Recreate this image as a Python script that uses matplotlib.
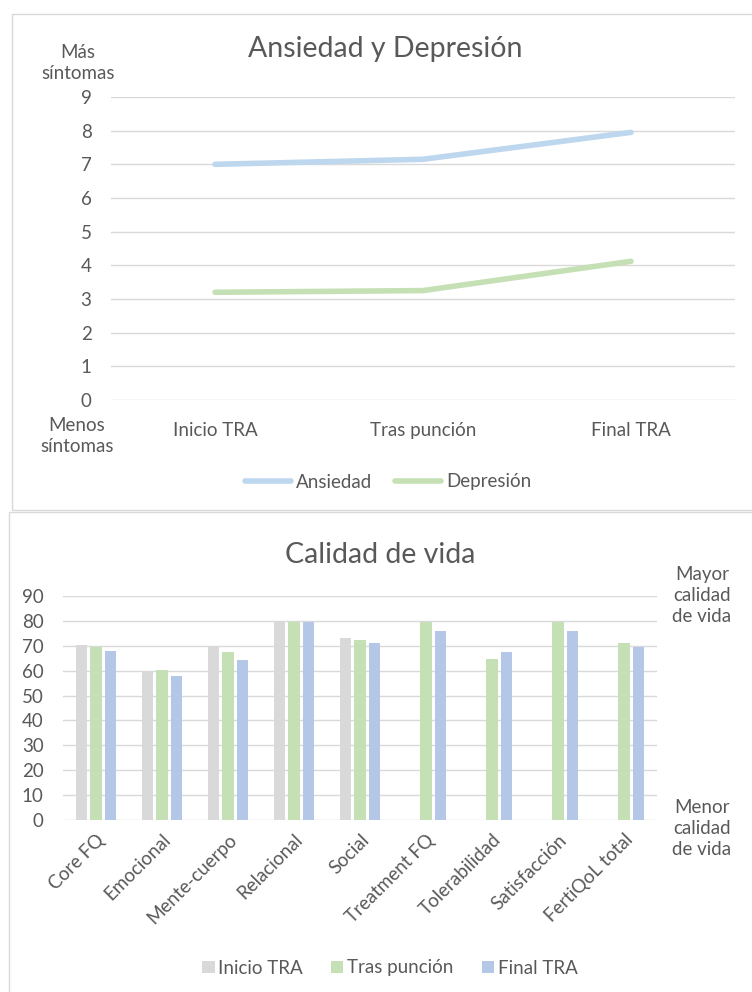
import matplotlib
matplotlib.use('Agg')
import matplotlib.pyplot as plt
from matplotlib.patches import Rectangle
import numpy as np

plt.rcParams['font.family'] = ['Lato', 'DejaVu Sans']

# Tamaño del lienzo en píxeles (dpi = 100)
W, H = 752, 992
GRIS_TEXTO = '#595959'
GRIS_REJILLA = '#D9D9D9'
FS = 13.5

# Datos del gráfico de líneas
momentos = ['Inicio TRA', 'Tras punción', 'Final TRA']
ansiedad = [7.0, 7.15, 7.95]
depresion = [3.2, 3.25, 4.12]

# Datos del gráfico de barras (FertiQoL)
dimensiones = ['Core FQ', 'Emocional', 'Mente-cuerpo', 'Relacional', 'Social',
               'Treatment FQ', 'Tolerabilidad', 'Satisfacción', 'FertiQoL total']
inicio_tra = [70.3, 59.6, 70.0, 79.6, 73.2, np.nan, np.nan, np.nan, np.nan]
tras_puncion = [69.6, 60.3, 67.6, 79.6, 72.3, 79.4, 64.8, 79.4, 71.2]
final_tra = [67.9, 57.8, 64.1, 79.6, 71.3, 75.8, 67.6, 75.8, 69.6]


def caja(x0, y0, x1, y1):
    # Convierte un rectángulo en píxeles (origen arriba a la izquierda) a fracción de figura
    return [x0 / W, 1 - y1 / H, (x1 - x0) / W, (y1 - y0) / H]


def px(x, y):
    return x / W, 1 - y / H


fig = plt.figure(figsize=(W / 100, H / 100), dpi=100)

# Marcos de los dos paneles
for (x0, y0, x1, y1) in [(12, 14, 770, 510), (9, 512, 770, 1010)]:
    fig.patches.append(Rectangle(px(x0, y1), (x1 - x0) / W, (y1 - y0) / H,
                                 transform=fig.transFigure, facecolor='none',
                                 edgecolor=GRIS_REJILLA, lw=1))

# --- Ansiedad y Depresión ---
ax1 = fig.add_axes(caja(111, 97, 735, 400))
ax1.patch.set_alpha(0)
x = np.arange(len(momentos))
ax1.plot(x, ansiedad, color='#BDD7EE', lw=4, solid_capstyle='round', label='Ansiedad')
ax1.plot(x, depresion, color='#C5E0B4', lw=4, solid_capstyle='round', label='Depresión')
ax1.set_xlim(-0.5, len(momentos) - 0.5)
ax1.set_ylim(0, 9)
ax1.set_yticks(range(0, 10))
ax1.set_xticks(x)
ax1.set_xticklabels(momentos)
ax1.grid(axis='y', color=GRIS_REJILLA, lw=1)
ax1.set_axisbelow(True)
for s in ax1.spines.values():
    s.set_visible(False)
ax1.tick_params(axis='y', length=0, pad=14, labelsize=FS, labelcolor=GRIS_TEXTO)
ax1.tick_params(axis='x', length=0, pad=16, labelsize=FS, labelcolor=GRIS_TEXTO)

fig.text(*px(385, 57), 'Ansiedad y Depresión', ha='center', va='baseline',
         fontsize=20.5, color=GRIS_TEXTO)
fig.text(*px(78, 79), 'Más\nsíntomas', ha='center', va='baseline',
         fontsize=FS, color=GRIS_TEXTO, linespacing=1.3, multialignment='center')
fig.text(*px(77, 452), 'Menos\nsíntomas', ha='center', va='baseline',
         fontsize=FS, color=GRIS_TEXTO, linespacing=1.3, multialignment='center')

leg1 = ax1.legend(loc='center', bbox_to_anchor=px(388, 482), bbox_transform=fig.transFigure,
                  ncol=2, frameon=False, fontsize=FS, handlelength=2.45,
                  handletextpad=0.25, columnspacing=1.25)
for t in leg1.get_texts():
    t.set_color(GRIS_TEXTO)

# --- Calidad de vida ---
ax2 = fig.add_axes(caja(63, 596, 657, 820))
ax2.patch.set_alpha(0)
xc = np.arange(len(dimensiones))
ancho = 0.17
paso = 0.22
ax2.bar(xc - paso, inicio_tra, ancho, color='#D9D9D9', label='Inicio TRA')
ax2.bar(xc, tras_puncion, ancho, color='#C5E0B4', label='Tras punción')
ax2.bar(xc + paso, final_tra, ancho, color='#B4C7E7', label='Final TRA')
ax2.set_xlim(-0.5, len(dimensiones) - 0.5)
ax2.set_ylim(0, 90)
ax2.set_yticks(range(0, 91, 10))
ax2.set_xticks(xc)
ax2.set_xticklabels(dimensiones, rotation=45, ha='right', rotation_mode='anchor')
ax2.grid(axis='y', color=GRIS_REJILLA, lw=1)
ax2.set_axisbelow(True)
for s in ax2.spines.values():
    s.set_visible(False)
ax2.tick_params(axis='y', length=0, pad=14, labelsize=FS, labelcolor=GRIS_TEXTO)
ax2.tick_params(axis='x', length=0, pad=8, labelsize=FS, labelcolor=GRIS_TEXTO)

fig.text(*px(380, 563), 'Calidad de vida', ha='center', va='baseline',
         fontsize=20.5, color=GRIS_TEXTO)
fig.text(*px(702, 622), 'Mayor\ncalidad\nde vida', ha='center', va='baseline',
         fontsize=FS, color=GRIS_TEXTO, linespacing=1.3, multialignment='center')
fig.text(*px(702, 855), 'Menor\ncalidad\nde vida', ha='center', va='baseline',
         fontsize=FS, color=GRIS_TEXTO, linespacing=1.3, multialignment='center')

leg2 = ax2.legend(loc='center', bbox_to_anchor=px(390, 968), bbox_transform=fig.transFigure,
                  ncol=3, frameon=False, fontsize=FS, handlelength=0.65, handleheight=0.65,
                  handletextpad=0.2, columnspacing=1.5)
for t in leg2.get_texts():
    t.set_color(GRIS_TEXTO)

fig.savefig('out.png', dpi=100)
